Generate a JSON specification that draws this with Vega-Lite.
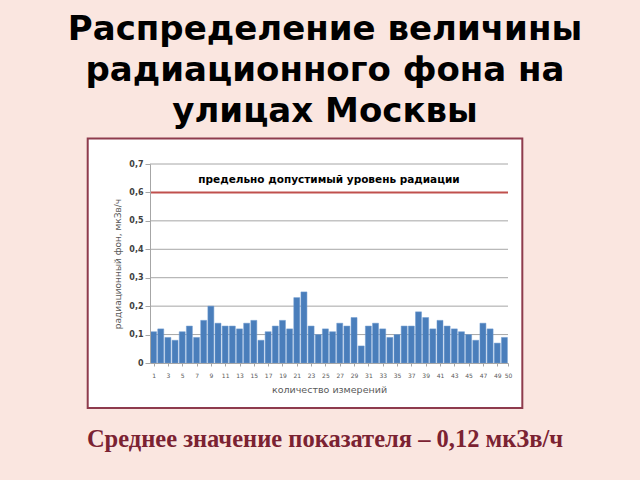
{
  "$schema": "https://vega.github.io/schema/vega-lite/v6.json",
  "width": 358,
  "height": 199,
  "autosize": {"type": "none"},
  "padding": {"left": 150, "top": 164, "right": 132, "bottom": 117},
  "background": "#fae6e0",
  "config": {
    "view": {"stroke": null},
    "font": "DejaVu Sans",
    "axis": {"labelOverlap": false, "labelFlush": false, "labelBound": false}
  },
  "title": {
    "text": ["Распределение величины", "радиационного фона на", "улицах  Москвы"],
    "font": "DejaVu Sans",
    "fontWeight": "bold",
    "fontSize": 34,
    "lineHeight": 41,
    "color": "#000000",
    "anchor": "middle",
    "offset": 8,
    "dx": -4
  },
  "datasets": {
    "radiation": [
      {"n": 1, "v": 0.11}, {"n": 2, "v": 0.12}, {"n": 3, "v": 0.09}, {"n": 4, "v": 0.08}, {"n": 5, "v": 0.11},
      {"n": 6, "v": 0.13}, {"n": 7, "v": 0.09}, {"n": 8, "v": 0.15}, {"n": 9, "v": 0.20}, {"n": 10, "v": 0.14},
      {"n": 11, "v": 0.13}, {"n": 12, "v": 0.13}, {"n": 13, "v": 0.12}, {"n": 14, "v": 0.14}, {"n": 15, "v": 0.15},
      {"n": 16, "v": 0.08}, {"n": 17, "v": 0.11}, {"n": 18, "v": 0.13}, {"n": 19, "v": 0.15}, {"n": 20, "v": 0.12},
      {"n": 21, "v": 0.23}, {"n": 22, "v": 0.25}, {"n": 23, "v": 0.13}, {"n": 24, "v": 0.10}, {"n": 25, "v": 0.12},
      {"n": 26, "v": 0.11}, {"n": 27, "v": 0.14}, {"n": 28, "v": 0.13}, {"n": 29, "v": 0.16}, {"n": 30, "v": 0.06},
      {"n": 31, "v": 0.13}, {"n": 32, "v": 0.14}, {"n": 33, "v": 0.12}, {"n": 34, "v": 0.09}, {"n": 35, "v": 0.10},
      {"n": 36, "v": 0.13}, {"n": 37, "v": 0.13}, {"n": 38, "v": 0.18}, {"n": 39, "v": 0.16}, {"n": 40, "v": 0.12},
      {"n": 41, "v": 0.15}, {"n": 42, "v": 0.13}, {"n": 43, "v": 0.12}, {"n": 44, "v": 0.11}, {"n": 45, "v": 0.10},
      {"n": 46, "v": 0.08}, {"n": 47, "v": 0.14}, {"n": 48, "v": 0.12}, {"n": 49, "v": 0.07}, {"n": 50, "v": 0.09}
    ]
  },
  "layer": [
    {
      "data": {"values": [{"box": "frame"}]},
      "mark": {"type": "rect", "fill": "#ffffff", "stroke": "#8e3b4d", "strokeWidth": 2, "clip": false},
      "encoding": {
        "x": {"datum": -8.2, "type": "quantitative", "scale": {"domain": [0.5, 50.5], "nice": false, "zero": false, "padding": 0}},
        "x2": {"datum": 52.5},
        "y": {"datum": 0.79, "type": "quantitative", "scale": {"domain": [0, 0.7], "nice": false, "zero": false}},
        "y2": {"datum": -0.158}
      }
    },
    {
      "data": {"values": [{"g": 0.1}, {"g": 0.2}, {"g": 0.3}, {"g": 0.4}, {"g": 0.5}, {"g": 0.7}]},
      "mark": {"type": "rule", "color": "#a6a6a6", "strokeWidth": 1},
      "encoding": {
        "y": {"field": "g", "type": "quantitative", "title": "радиационный фон, мкЗв/ч", "scale": {"domain": [0, 0.7], "nice": false, "zero": false}}
      }
    },
    {
      "data": {"name": "radiation"},
      "mark": {"type": "bar", "color": "#4a7ebb", "size": 6, "stroke": "#6f9bd0", "strokeWidth": 0.5},
      "encoding": {
        "x": {
          "field": "n", "type": "quantitative",
          "scale": {"domain": [0.5, 50.5], "nice": false, "zero": false, "padding": 0},
          "axis": {
            "values": [1,3,5,7,9,11,13,15,17,19,21,23,25,27,29,31,33,35,37,39,41,43,45,47,49,50.5],
            "tickCount": 100,
            "labelExpr": "datum.value > 50 ? '50' : format(datum.value, 'd')",
            "title": "количество измерений",
            "titleFontSize": 9.5, "titleFontWeight": "normal", "titleColor": "#595959", "titlePadding": 6,
            "labelFontSize": 6, "labelColor": "#595959", "labelPadding": 6, "labelOverlap": false, "labelFlush": false,
            "grid": false, "tickSize": 3, "tickColor": "#a6a6a6", "domainColor": "#a6a6a6", "zindex": 1
          }
        },
        "y": {
          "field": "v", "type": "quantitative",
          "scale": {"domain": [0, 0.7], "nice": false, "zero": false},
          "axis": {
            "values": [0, 0.1, 0.2, 0.3, 0.4, 0.5, 0.6, 0.7],
            "tickCount": 100,
            "labelExpr": "datum.value == 0 ? '0' : replace(format(datum.value, '.1f'), '.', ',')",
            "title": "радиационный фон, мкЗв/ч",
            "titleFontSize": 9, "titleFontWeight": "normal", "titleColor": "#595959", "titlePadding": 6,
            "labelFontSize": 8, "labelColor": "#404040", "labelFontWeight": "bold", "labelOverlap": false,
            "grid": false,
            "tickSize": 5, "tickColor": "#a6a6a6", "domainColor": "#a6a6a6", "zindex": 1
          }
        }
      }
    },
    {
      "data": {"values": [{"level": 0.6}]},
      "mark": {"type": "rule", "color": "#c0504d", "strokeWidth": 2},
      "encoding": {
        "y": {"field": "level", "type": "quantitative", "title": "радиационный фон, мкЗв/ч", "scale": {"domain": [0, 0.7], "nice": false, "zero": false}}
      }
    },
    {
      "data": {"values": [{"label": "предельно допустимый уровень радиации", "pos": 0.645}]},
      "mark": {"type": "text", "fontSize": 10.5, "fontWeight": "bold", "color": "#000000", "baseline": "middle", "font": "DejaVu Sans"},
      "encoding": {
        "y": {"field": "pos", "type": "quantitative", "title": "радиационный фон, мкЗв/ч", "scale": {"domain": [0, 0.7], "nice": false, "zero": false}},
        "text": {"field": "label"}
      }
    },
    {
      "data": {"values": [{"note": "Среднее значение показателя – 0,12 мкЗв/ч", "pos": -0.272}]},
      "mark": {"type": "text", "font": "Liberation Serif", "fontWeight": "bold", "fontSize": 24.5, "color": "#7b2232", "baseline": "middle", "clip": false, "dx": -4},
      "encoding": {
        "y": {"field": "pos", "type": "quantitative", "title": "радиационный фон, мкЗв/ч", "scale": {"domain": [0, 0.7], "nice": false, "zero": false}},
        "text": {"field": "note"}
      }
    }
  ]
}
